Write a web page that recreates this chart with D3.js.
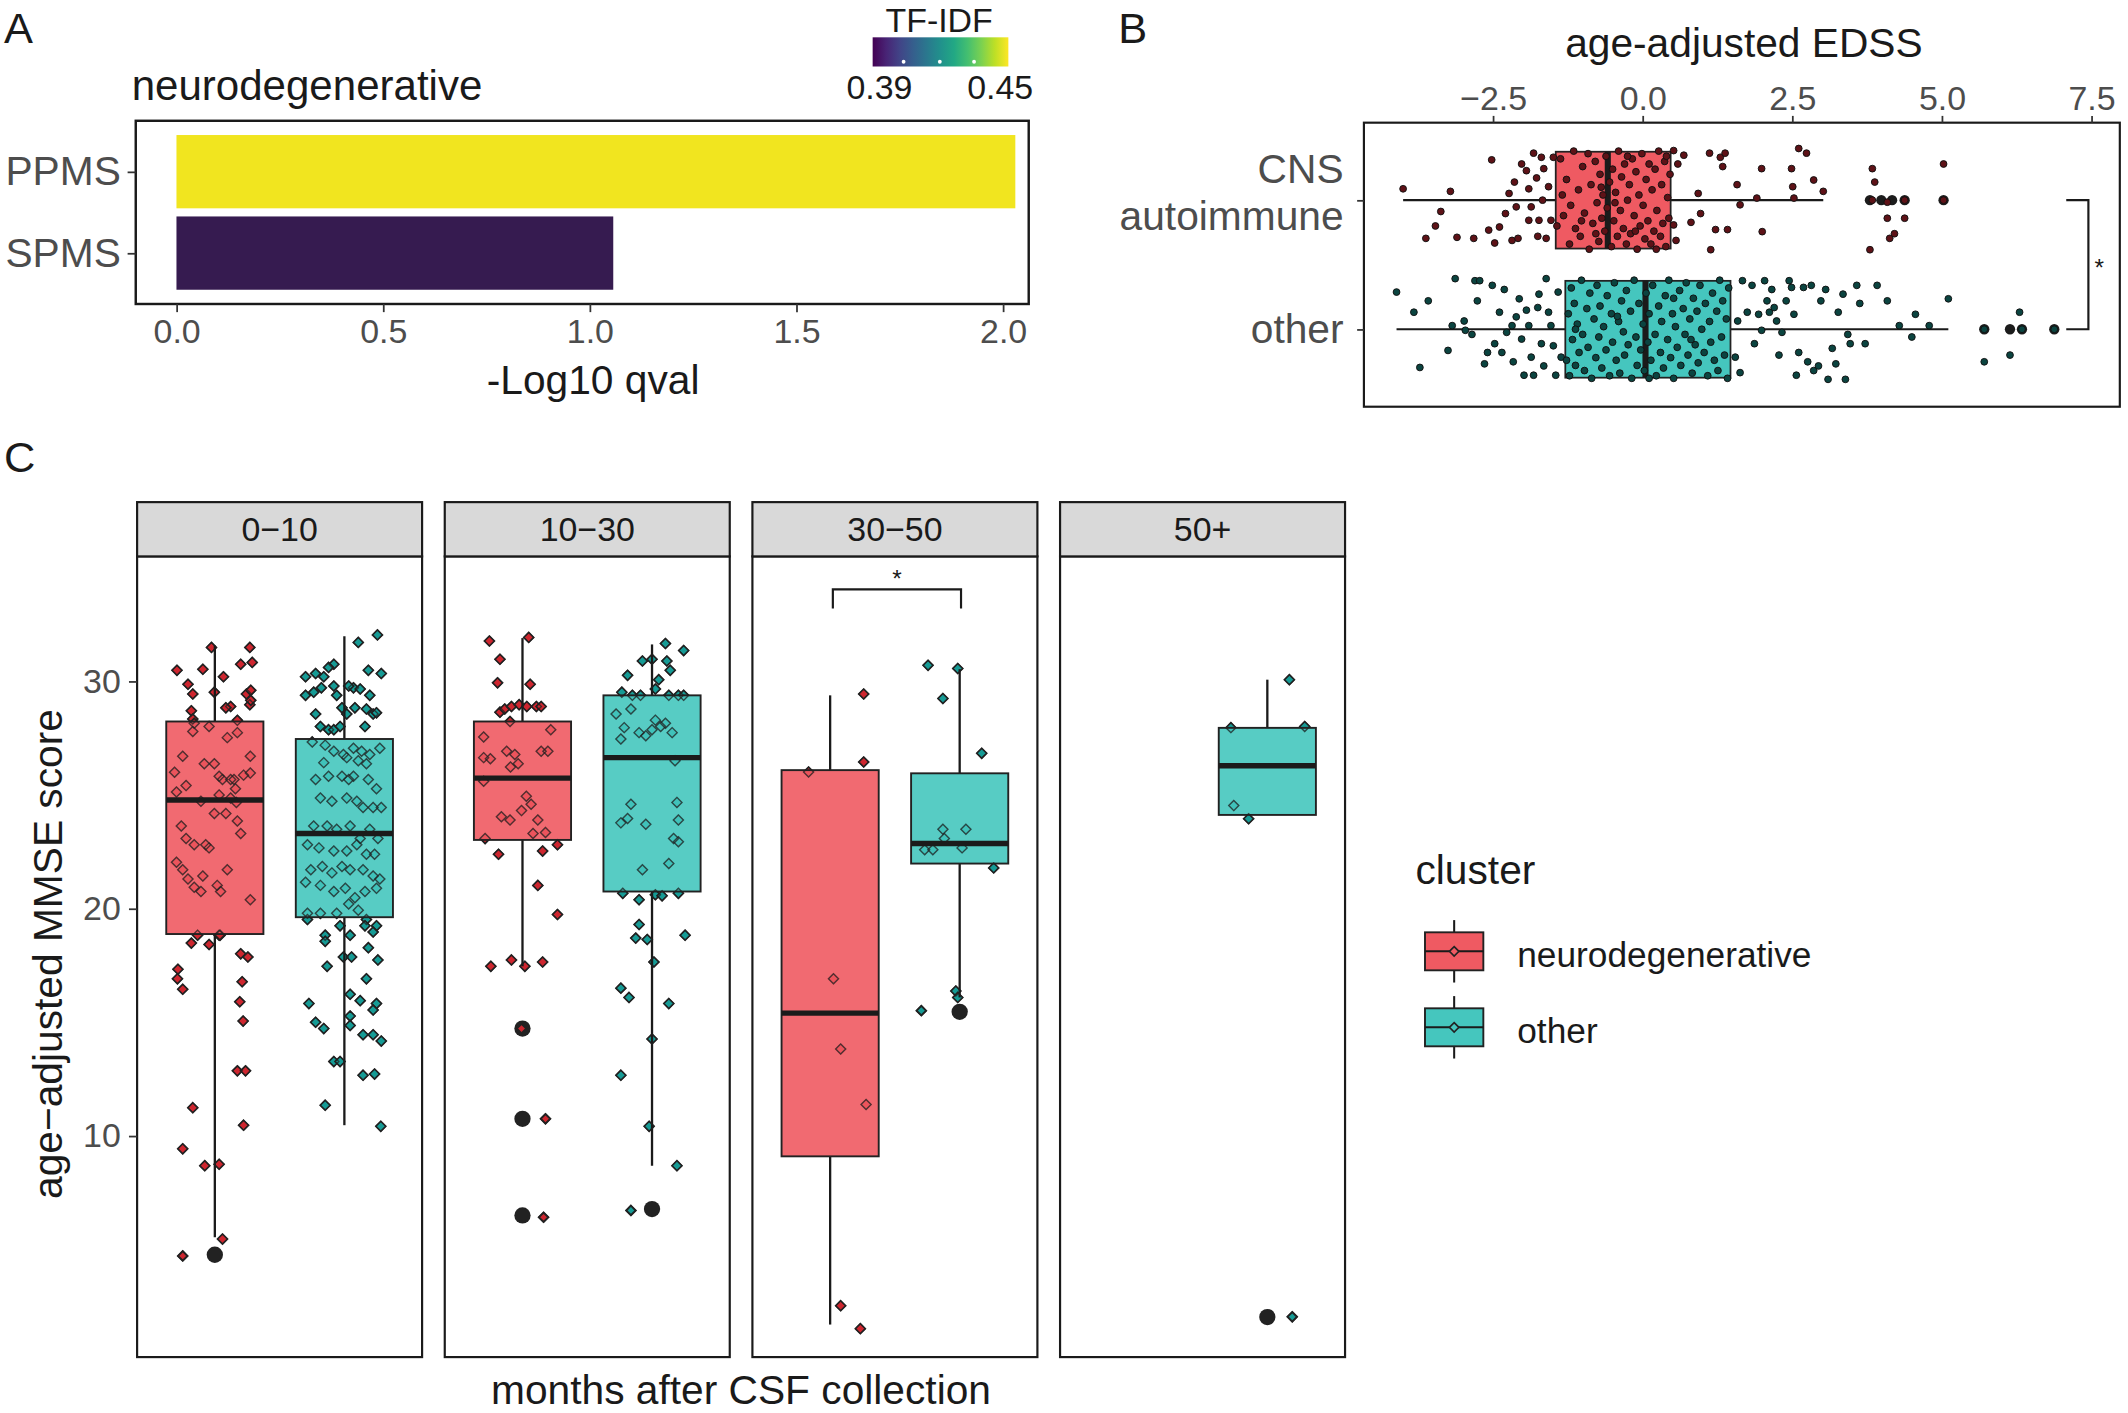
<!DOCTYPE html>
<html>
<head>
<meta charset="utf-8">
<script src="https://cdn.jsdelivr.net/npm/d3@7"></script>
<style>
body { margin: 0; background: #fff; }
text { font-family: "Liberation Sans", Arial, sans-serif; }
</style>
</head>
<body>
<script>
// ---- panel A data ----
var qvalCategories = ["PPMS", "SPMS"];
var qvalValues = [2.03, 1.057];
var tfidfValues = [0.453, 0.388];
var qvalTicks = [0, 0.5, 1, 1.5, 2];
var tfidfLabels = [0.39, 0.45];
var tfidfMarks = [0.402, 0.42, 0.437];

// ---- panel B data (value, jitter -1..1) ----
var edssGroups = ["CNS autoimmune", "other"];
var edssLabelLines = [["CNS", "autoimmune"], ["other"]];
var edssTicks = [-2.5, 0, 2.5, 5, 7.5];
var edssQ1 = [-1.45, -1.29];
var edssMedian = [-0.58, 0.05];
var edssQ3 = [0.47, 1.47];
var edssLow = [-4.00, -4.11];
var edssHigh = [3.02, 5.11];
var edssOutliers = [[3.80, 3.99, 4.17, 4.38, 5.03], [5.71, 6.14, 6.34, 6.88]];
var edssBracket = [7.08, 7.45];

var edssCNSPoints = [
 [-4.00,-0.22],[-3.21,-0.17],[-2.52,-0.78],[-3.37,0.22],[-3.46,0.50],[-3.62,0.74],[-3.10,0.72],[-2.82,0.74],[-2.57,0.58],[-2.47,0.83],
 [-2.39,0.52],[-2.29,0.26],[-2.18,0.78],[-2.11,0.13],[-2.08,0.74],[-2.02,-0.70],[-2.14,-0.35],[-1.94,-0.57],[-1.90,-0.22],[-1.86,0.13],
 [-1.82,-0.91],[-1.77,-0.43],[-1.75,0.70],[-1.73,0.39],[-1.69,-0.83],[-1.67,0.0],[-1.65,-0.61],[-1.61,0.74],[-1.57,-0.26],[-1.53,0.39],
 [-1.49,-0.83],[-1.90,0.39],[-2.23,-0.13],
 [-1.37,-0.8],[-1.32,0.3],[-1.27,-0.4],[-1.22,0.85],[-1.20,0.1],[-1.15,-0.95],[-1.12,0.55],[-1.07,-0.2],[-1.04,0.7],[-1.00,-0.65],
 [-0.97,0.25],[-0.91,-0.9],[-0.89,0.95],[-0.86,-0.3],[-0.83,0.45],[-0.79,-0.75],[-0.76,0.05],[-0.73,0.8],[-0.71,-0.5],[-0.68,0.35],
 [-0.66,-0.1],[-0.63,0.6],[-0.61,-0.85],[-0.59,0.15],[-0.55,-0.35],[-0.52,0.9],[-0.50,-0.6],[-0.48,0.4],[-0.45,-0.15],[-0.42,0.7],
 [-0.40,-0.95],[-0.37,0.2],[-0.35,-0.45],[-0.32,0.55],[-0.30,-0.7],[-0.27,0.85],[-0.25,0.0],[-0.22,-0.3],[-0.20,0.65],[-0.17,-0.8],
 [-0.14,0.3],[-0.11,-0.55],[-0.09,0.95],[-0.06,-0.1],[-0.04,0.5],[-0.01,-0.9],[0.01,0.1],[0.04,0.75],[0.06,-0.4],[0.09,0.4],
 [0.11,-0.7],[0.14,0.85],[0.16,-0.2],[0.19,0.6],[0.21,-0.6],[0.24,0.2],[0.27,-0.95],[0.30,0.7],[0.32,-0.3],[0.34,0.45],
 [0.37,-0.75],[0.39,0.9],[0.42,-0.05],[0.44,0.35],[0.46,-0.5],[-1.43,0.5],[-1.34,-0.1],[-0.69,-0.25],[-0.46,0.05],[-0.12,0.6],
 [0.23,0.95],[0.40,-0.85],[-1.02,0.4],[-0.78,0.65],[-0.25,-0.85],
 [0.52,-0.96],[0.59,-0.70],[0.69,-0.87],[0.52,0.48],[0.56,0.78],[0.81,0.43],[0.93,-0.13],[0.97,0.26],[1.12,-0.91],[1.14,0.96],
 [1.22,0.57],[1.30,-0.83],[1.34,-0.65],[1.38,-0.91],[1.42,0.57],[1.58,-0.30],[1.63,0.09],[1.91,-0.04],[1.99,-0.61],[2.00,0.61],
 [2.49,-0.61],[2.51,-0.26],[2.53,-0.04],[2.61,-1.0],[2.74,-0.91],[2.86,-0.39],[3.02,-0.17],
 [3.84,-0.61],[3.88,-0.35],[4.09,0.04],[4.09,0.35],[4.13,0.74],[4.21,0.65],[4.38,0.35],[3.80,0.96],[5.03,-0.70],[3.84,0],[4.38,0],[5.03,0]
];

var edssOtherPoints = [
 [-4.11,-0.72],[-3.82,-0.33],[-3.72,0.74],[-3.58,-0.55],[-3.25,0.41],[-3.13,-0.98],[-3.18,-0.07],[-2.98,-0.16],[-2.80,-0.94],[-2.76,-0.55],
 [-2.72,-0.94],[-2.64,0.67],[-2.51,-0.85],[-2.47,0.28],[-2.39,-0.33],[-2.35,0.45],[-2.31,-0.77],[-2.27,0.06],[-2.18,-0.07],[-2.16,0.63],
 [-2.11,-0.24],[-2.06,-0.59],[-2.02,0.19],[-1.98,0.89],[-1.94,-0.37],[-1.90,-0.07],[-1.86,0.54],[-1.82,0.89],[-1.75,-0.42],[-1.73,-0.68],
 [-1.69,0.28],[-1.65,0.71],[-1.61,-0.98],[-1.57,-0.33],[-1.53,-0.07],[-1.49,0.32],[-1.45,0.89],[-1.41,-0.72],[-1.36,0.54],[-2.85,0.10],
 [-2.59,0.45],[-2.96,0.02],
 [-1.27,0.6],[-1.24,-0.3],[-1.22,0.9],[-1.19,-0.8],[-1.17,0.2],[-1.14,-0.5],[-1.12,0.7],[-1.09,-0.1],[-1.06,0.45],[-1.02,-0.95],
 [-1.00,0.1],[-0.97,0.8],[-0.93,-0.4],[-0.91,0.35],[-0.88,-0.7],[-0.85,0.95],[-0.81,-0.2],[-0.78,0.55],[-0.76,-0.85],[-0.73,0.15],
 [-0.71,-0.45],[-0.68,0.75],[-0.65,-0.05],[-0.61,0.4],[-0.59,-0.65],[-0.55,0.9],[-0.52,-0.3],[-0.50,0.25],[-0.47,-0.9],[-0.44,0.6],
 [-0.40,-0.15],[-0.38,0.85],[-0.35,-0.55],[-0.32,0.05],[-0.30,0.5],[-0.27,-0.75],[-0.24,0.3],[-0.20,-0.35],[-0.18,0.95],[-0.14,-0.95],
 [-0.11,0.15],[-0.09,0.7],[-0.06,-0.5],[-0.03,0.4],[0.01,-0.1],[0.03,0.8],[0.06,-0.7],[0.09,0.25],[0.11,-0.3],[0.14,0.6],
 [0.17,-0.85],[0.21,0.1],[0.23,0.9],[0.27,-0.45],[0.30,0.45],[0.32,-0.15],[0.35,0.75],[0.38,-0.65],[0.42,0.2],[0.44,-0.95],
 [0.47,0.55],[0.50,-0.3],[0.52,0.95],[0.55,-0.05],[0.58,0.35],[0.62,-0.75],[0.64,0.7],[0.68,-0.4],[0.71,0.1],[0.73,-0.9],
 [0.76,0.5],[0.79,-0.2],[0.83,0.85],[0.85,-0.6],[0.88,0.3],[0.91,-0.35],[0.93,0.65],[0.96,-0.85],[0.99,0.0],[1.03,0.45],
 [1.05,-0.5],[1.09,0.9],[1.12,-0.15],[1.14,0.25],[1.17,-0.7],[1.20,0.6],[1.24,-0.35],[1.26,0.8],[1.29,-0.95],[1.32,0.15],
 [1.34,-0.55],[1.37,0.5],[1.40,-0.2],[1.42,0.95],[1.44,-0.8],[-0.42,-0.25],[0.11,0.95],[0.81,0.2],[-1.12,0.0],[0.52,-0.6],
 [1.55,0.54],[1.59,-0.16],[1.63,0.84],[1.67,-0.94],[1.75,-0.33],[1.83,-0.85],[1.87,0.28],[1.94,-0.29],[1.99,0.02],[2.04,-0.94],
 [2.08,-0.55],[2.12,-0.33],[2.16,-0.77],[2.20,-0.42],[2.24,-0.16],[2.28,0.50],[2.33,0.06],[2.40,-0.55],[2.45,-0.94],[2.49,-0.81],
 [2.53,-0.29],[2.57,0.89],[2.61,0.45],[2.69,-0.81],[2.76,0.63],[2.82,-0.85],[2.86,0.80],[2.94,0.71],[2.98,-0.55],[3.06,-0.77],
 [3.10,0.97],[3.17,0.37],[3.23,0.67],[3.27,-0.33],[3.35,-0.68],[3.39,0.97],[3.43,0.10],[3.47,0.28],[3.58,-0.85],[3.63,-0.50],
 [3.72,0.28],[3.92,-0.85],[4.09,-0.55],[4.29,-0.07],[4.50,0.15],[4.56,-0.29],[4.79,-0.07],[5.11,-0.59],
 [5.71,0.63],[6.14,0.50],[6.30,-0.33],[5.71,0],[6.34,0],[6.88,0]
];

// ---- panel C data ----
var mmseFacets = ["0\u221210", "10\u221230", "30\u221250", "50+"];
var clusters = ["neurodegenerative", "other"];
var mmseTicks = [10, 20, 30];
// [facet][cluster], null when the group is empty
var mmseQ1 = [[18.88, 19.62], [23.02, 20.75], [9.10, 21.98], [null, 24.12]];
var mmseMedian = [[24.78, 23.30], [25.74, 26.64], [15.40, 22.86], [null, 26.28]];
var mmseQ3 = [[28.23, 27.46], [28.23, 29.38], [26.09, 25.95], [null, 27.95]];
var mmseLow = [[5.54, 10.47], [17.46, 8.69], [1.70, 16.09], [null, 24.12]];
var mmseHigh = [[31.57, 31.98], [31.90, 31.62], [29.38, 30.53], [null, 30.07]];
var mmseOutliers = [[[4.77], []], [[14.72, 10.75, 6.50], [6.78]], [[], [15.46]], [[], [2.03]]];
var mmseSignif = [null, null, [34.04, 33.2], null];

var mmseNeuro0_10 = [
 [30.48,-0.79],[29.87,-0.56],[29.44,-0.46],[30.53,-0.25],[31.49,-0.07],[29.52,-0.01],[30.20,0.18],[28.89,0.33],[28.83,0.23],[28.28,0.47],
 [30.75,0.54],[31.49,0.73],[30.83,0.78],[29.44,0.66],[29.60,0.75],[28.97,0.73],[28.70,-0.49],[28.34,-0.46],[28.15,-0.43],[29.16,0.75],
 [27.79,-0.46],[28.01,-0.12],[27.52,0.26],[27.74,0.47],[26.70,0.74],[26.70,-0.67],[26.37,-0.22],[26.37,-0.01],[25.82,0.09],[25.68,0.33],
 [25.27,0.43],[25.87,0.60],[25.96,0.74],[25.00,0.09],[24.86,0.33],[24.67,0.45],[25.13,-0.80],[25.41,-0.60],[24.72,-0.29],[23.85,0.47],
 [23.30,0.54],[24.18,-0.01],[24.18,0.23],[23.63,-0.70],[23.08,-0.60],[22.81,-0.43],[22.81,-0.19],[22.67,-0.12],[22.04,-0.80],[21.71,-0.67],
 [21.30,-0.56],[20.94,-0.43],[20.75,-0.29],[21.02,0.05],[20.75,0.12],[21.71,0.26],[21.43,-0.25],[20.39,0.74],[18.83,-0.36],[18.83,0.09],
 [25.68,0.16],[25.68,0.40],[26.0,-0.84],
 [18.48,-0.49],[18.42,-0.12],[18.83,0.11],[18.01,0.54],[17.87,0.69],[17.33,-0.77],[16.91,-0.78],[16.45,-0.67],[16.78,0.57],[15.90,0.52],
 [15.05,0.59],[12.86,0.47],[12.86,0.64],[10.47,0.60],[11.24,-0.46],[9.43,-0.67],[8.69,-0.21],[8.75,0.09],[5.46,0.16],[4.72,-0.67]
];
var mmseOther0_10 = [
 [31.71,0.29],[32.04,0.69],[30.34,0.77],[30.48,0.50],[29.71,0.19],[30.75,-0.22],[30.61,-0.33],[30.20,-0.43],[30.34,-0.60],[30.20,-0.81],
 [29.38,-0.81],[29.52,-0.64],[29.71,-0.48],[29.79,-0.22],[29.38,-0.16],[28.83,-0.05],[28.56,0.05],[28.83,0.22],[29.66,0.33],[28.78,0.46],
 [28.56,0.60],[28.56,-0.60],[28.01,-0.50],[27.87,-0.33],[27.87,-0.22],[28.01,-0.09],[28.01,0.43],[28.61,0.67],[29.38,0.53],[29.79,0.09],
 [27.33,-0.67],[27.19,-0.40],[26.92,-0.22],[26.78,-0.02],[27.05,0.19],[26.92,0.36],[26.78,0.53],[27.05,0.74],[26.42,-0.43],[26.64,0.05],
 [26.50,0.29],[26.37,0.46],[25.68,-0.60],[25.82,-0.33],[25.82,-0.05],[25.68,0.09],[25.82,0.19],[25.68,0.50],[25.27,0.67],[24.86,-0.50],
 [24.72,-0.26],[24.86,0.05],[24.72,0.26],[24.45,0.39],[24.45,0.60],[24.45,0.77],[23.63,-0.64],[23.63,-0.36],[23.49,-0.16],[23.63,0.12],
 [23.08,0.33],[23.49,0.53],[23.08,0.70],[22.81,-0.77],[22.67,-0.53],[22.53,-0.22],[22.53,0.05],[22.81,0.26],[22.39,0.46],[22.39,0.63],
 [21.71,-0.70],[21.85,-0.46],[21.57,-0.26],[21.85,-0.05],[21.71,0.12],[21.71,0.39],[21.43,0.60],[21.30,0.74],[21.16,-0.81],[21.02,-0.50],
 [20.75,-0.22],[20.89,0.02],[20.48,0.22],[20.75,0.43],[20.89,0.67],[19.79,-0.77],[19.79,-0.50],[19.79,-0.16],[20.20,0.09],[19.93,0.29],
 [19.52,0.46],[19.24,0.67],
 [19.52,-0.77],[18.83,-0.40],[18.56,-0.40],[19.24,-0.09],[18.83,0.12],[19.24,0.43],[18.97,0.60],[18.28,0.50],[17.74,0.70],[17.46,-0.36],
 [17.87,-0.02],[17.87,0.15],[16.91,0.46],[16.23,0.12],[15.95,0.33],[15.82,0.67],[15.54,0.60],[15.82,-0.74],[15.00,-0.60],[14.72,-0.43],
 [15.27,0.12],[14.86,0.12],[14.45,0.39],[14.45,0.60],[14.17,0.77],[13.27,-0.22],[13.27,-0.09],[12.67,0.39],[12.72,0.63],[11.35,-0.40],
 [10.42,0.76]
];
var mmseNeuro10_30 = [
 [31.77,-0.69],[30.97,-0.47],[31.93,0.13],[29.93,-0.52],[29.87,0.16],[28.64,-0.47],[28.78,-0.37],[28.89,-0.23],[28.97,-0.07],[28.89,0.09],
 [28.89,0.29],[28.89,0.39],[28.23,-0.26],[27.55,-0.81],[26.64,-0.81],[26.59,-0.67],[26.92,-0.33],[26.78,-0.16],[26.37,-0.09],[26.92,0.39],
 [26.92,0.53],[27.87,0.59],[26.23,-0.25],[25.60,-0.81],[24.04,-0.44],[23.90,-0.26],[24.31,-0.02],[24.94,0.08],[24.59,0.18],[23.90,0.32],
 [23.35,0.48],[23.30,0.22],[23.08,-0.78],[22.39,-0.50],[22.53,0.42],[22.81,0.73],[21.02,0.32],[19.74,0.73],[17.46,-0.66],[17.74,-0.23],
 [17.46,0.05],[17.65,0.42],[14.72,-0.02],[10.75,0.48],[6.42,0.44]
];
var mmseOther10_30 = [
 [31.66,0.28],[31.35,0.66],[30.89,-0.20],[30.97,0.00],[30.89,0.31],[30.48,0.38],[30.26,-0.51],[30.07,0.14],[29.52,-0.63],[29.38,-0.41],
 [29.38,-0.24],[29.66,0.07],[29.38,0.35],[29.38,0.55],[29.38,0.66],[28.56,-0.75],[28.78,-0.44],[27.96,-0.58],[27.74,-0.27],[27.60,-0.13],
 [28.29,0.07],[28.01,0.18],[27.87,0.00],[28.15,0.28],[27.74,0.42],[27.46,-0.65],[26.50,0.48],[24.59,-0.44],[23.77,-0.65],[23.96,-0.51],
 [23.71,-0.13],[24.67,0.52],[23.90,0.55],[23.08,0.45],[22.94,0.55],[21.98,0.35],[21.71,-0.20],[20.67,-0.61],[20.39,-0.27],[20.61,0.07],
 [20.56,0.21],[20.67,0.55],[19.30,-0.27],[18.70,-0.34],[18.64,-0.10],[18.83,0.69],[17.65,0.04],[16.50,-0.65],[16.09,-0.48],[15.82,0.35],
 [14.26,0.00],[12.67,-0.65],[10.42,-0.06],[8.69,0.52],[6.72,-0.44]
];
var mmseNeuro30_50 = [
 [26.01,-0.45],[29.44,0.70],[26.45,0.70],[16.91,0.07],[13.82,0.22],[11.38,0.75],[2.53,0.22],[1.52,0.63]
];
var mmseOther30_50 = [
 [30.70,-0.66],[30.56,-0.04],[29.24,-0.35],[26.83,0.46],[23.49,-0.35],[23.49,0.13],[22.59,-0.73],[22.59,-0.56],[22.67,0.05],[21.79,0.71],
 [23.08,-0.32],[16.37,-0.08],[16.09,-0.04],[15.51,-0.80]
];
var mmseNeuro50 = [];
var mmseOther50 = [
 [30.07,0.46],[27.96,-0.76],[28.01,0.78],[24.53,-0.70],[23.95,-0.39],[2.04,0.52]
];
var mmsePoints = [
 [mmseNeuro0_10, mmseOther0_10],
 [mmseNeuro10_30, mmseOther10_30],
 [mmseNeuro30_50, mmseOther30_50],
 [mmseNeuro50, mmseOther50]
];

// ---- styling ----
var INK = "#1a1a1a", GREY = "#4d4d4d";
var FILL = {"neurodegenerative": "#EF5A62", "other": "#45C6BE"};
var DOT = {"neurodegenerative": "#CE262F", "other": "#169B95"};
var EDSS_DOT = ["#5e1217", "#0b4440"];

var svg = d3.select("body").append("svg")
    .attr("width", 2128).attr("height", 1413)
    .attr("viewBox", "0 0 1568 1041.2");

function txt(g, x, y, s, size, anchor, fill) {
    return g.append("text")
	.attr("x", x).attr("y", y)
	.attr("dominant-baseline", "central")
	.attr("text-anchor", anchor || "start")
	.attr("font-size", size)
	.attr("fill", fill || INK)
	.text(s);
}

function styleAxis(g, size) {
    g.select(".domain").remove();
    g.selectAll(".tick line").attr("stroke", "#333").attr("stroke-width", 1.3);
    g.selectAll(".tick text").attr("font-size", size).attr("fill", GREY)
	.attr("font-family", "'Liberation Sans', Arial, sans-serif");
}

function diamond(s) {
    return "M0," + (-s) + "L" + s + ",0L0," + s + "L" + (-s) + ",0Z";
}

// panel letters
txt(svg, 3, 21, "A", 32);
txt(svg, 824, 21, "B", 32);
txt(svg, 3, 337, "C", 32);

/**
 * Panel A: q-value bars coloured by TF-IDF.
 */
var gA = svg.append("g");
var A = {left: 100, right: 758, top: 89, bottom: 224};
var xA = d3.scaleLinear().domain([0, 2]).range([130, 739]);
var yA = d3.scalePoint().domain(qvalCategories).range([A.top, A.bottom]).padding(0.625);
var colA = d3.scaleLinear()
    .domain([d3.min(tfidfValues), d3.max(tfidfValues)])
    .range(["#361b50", "#f1e51f"]);
var barH = yA.step() * 0.9;

gA.selectAll("rect.bar").data(qvalCategories).enter().append("rect")
    .attr("x", xA(0))
    .attr("y", function (d) { return yA(d) - barH / 2; })
    .attr("width", function (d, i) { return xA(qvalValues[i]) - xA(0); })
    .attr("height", barH)
    .attr("fill", function (d, i) { return colA(tfidfValues[i]); });
gA.append("rect").attr("x", A.left).attr("y", A.top)
    .attr("width", A.right - A.left).attr("height", A.bottom - A.top)
    .attr("fill", "none").attr("stroke", INK).attr("stroke-width", 1.8);
gA.append("g").attr("transform", "translate(0," + A.bottom + ")")
    .call(d3.axisBottom(xA).tickValues(qvalTicks).tickFormat(d3.format(".1f")).tickSize(6).tickPadding(5))
    .call(function (g) { styleAxis(g, 25); });
gA.append("g").attr("transform", "translate(" + A.left + ",0)")
    .call(d3.axisLeft(yA).tickSize(6).tickPadding(5))
    .call(function (g) { styleAxis(g, 30); });
txt(gA, 97, 63, "neurodegenerative", 31);
txt(gA, 437, 280, "-Log10 qval", 30, "middle");

// colour bar
var cb = {x0: 643, x1: 743, y0: 27.5, y1: 49};
var xCb = d3.scaleLinear().domain([0.39, 0.45]).range([648, 737]);
var grad = svg.append("defs").append("linearGradient").attr("id", "vir");
d3.range(0, 1.01, 0.1).forEach(function (t) {
    grad.append("stop").attr("offset", (t * 100) + "%").attr("stop-color", d3.interpolateViridis(t));
});
gA.append("rect").attr("x", cb.x0).attr("y", cb.y0)
    .attr("width", cb.x1 - cb.x0).attr("height", cb.y1 - cb.y0)
    .attr("fill", "url(#vir)");
gA.selectAll("circle.cbm").data(tfidfMarks).enter().append("circle")
    .attr("cx", function (d) { return xCb(d); }).attr("cy", 45.5).attr("r", 1.4)
    .attr("fill", "#fff");
gA.selectAll("text.cbl").data(tfidfLabels).enter().append("text")
    .attr("x", function (d) { return xCb(d); }).attr("y", 64)
    .attr("dominant-baseline", "central").attr("text-anchor", "middle")
    .attr("font-size", 25).attr("fill", INK)
    .text(function (d) { return d.toFixed(2); });
txt(gA, 692, 15, "TF-IDF", 25, "middle");

/**
 * Panel B: horizontal boxplots of age-adjusted EDSS.
 */
var gB = svg.append("g");
var B = {left: 1005, right: 1562, top: 90.4, bottom: 299.7};
var xB = d3.scaleLinear().domain([-4.655, 7.975]).range([B.left, B.right]);
var yB = d3.scalePoint().domain(edssGroups).range([B.top, B.bottom]).padding(0.6);
var bh = yB.step() * 0.75;
var edssPts = [edssCNSPoints, edssOtherPoints];

edssGroups.forEach(function (grp, i) {
    var cy = yB(grp), col = FILL[clusters[i]];
    gB.append("line").attr("x1", xB(edssLow[i])).attr("x2", xB(edssQ1[i]))
	.attr("y1", cy).attr("y2", cy).attr("stroke", INK).attr("stroke-width", 1.6);
    gB.append("line").attr("x1", xB(edssQ3[i])).attr("x2", xB(edssHigh[i]))
	.attr("y1", cy).attr("y2", cy).attr("stroke", INK).attr("stroke-width", 1.6);
    gB.append("rect").attr("x", xB(edssQ1[i])).attr("y", cy - bh / 2)
	.attr("width", xB(edssQ3[i]) - xB(edssQ1[i])).attr("height", bh)
	.attr("fill", col).attr("stroke", "#222").attr("stroke-width", 1.3);
    gB.append("line").attr("x1", xB(edssMedian[i])).attr("x2", xB(edssMedian[i]))
	.attr("y1", cy - bh / 2).attr("y2", cy + bh / 2)
	.attr("stroke", "#1b1b1b").attr("stroke-width", 4.5);
    gB.selectAll("circle.out" + i).data(edssOutliers[i]).enter().append("circle")
	.attr("cx", function (d) { return xB(d); }).attr("cy", cy).attr("r", 3.8)
	.attr("fill", "#1c1c1c");
    gB.selectAll("circle.pt" + i).data(edssPts[i]).enter().append("circle")
	.attr("cx", function (d) { return xB(d[0]); })
	.attr("cy", function (d) { return cy + d[1] * 0.4 * yB.step(); })
	.attr("r", 2.5)
	.attr("fill", EDSS_DOT[i]).attr("stroke", "#111").attr("stroke-width", 0.7);
});

gB.append("rect").attr("x", B.left).attr("y", B.top)
    .attr("width", B.right - B.left).attr("height", B.bottom - B.top)
    .attr("fill", "none").attr("stroke", INK).attr("stroke-width", 1.6);
gB.append("g").attr("transform", "translate(0," + B.top + ")")
    .call(d3.axisTop(xB).tickValues(edssTicks).tickFormat(d3.format(".1f")).tickSize(5).tickPadding(4.5))
    .call(function (g) { styleAxis(g, 25); });
gB.append("g").attr("transform", "translate(" + B.left + ",0)")
    .call(d3.axisLeft(yB).tickSize(5).tickFormat(function () { return ""; }))
    .call(function (g) { styleAxis(g, 25); });
edssGroups.forEach(function (grp, i) {
    var lines = edssLabelLines[i];
    var mid = yB(grp) - (lines.length > 1 ? 5.5 : 0);
    lines.forEach(function (s, k) {
	txt(gB, 990, mid + (k - (lines.length - 1) / 2) * 35, s, 30, "end", GREY);
    });
});
txt(gB, 1285, 32, "age-adjusted EDSS", 30, "middle");

// significance bracket
var yb1 = yB(edssGroups[0]), yb2 = yB(edssGroups[1]);
gB.append("path")
    .attr("d", "M" + xB(edssBracket[0]) + "," + yb1 + "H" + xB(edssBracket[1]) +
	  "V" + yb2 + "H" + xB(edssBracket[0]))
    .attr("fill", "none").attr("stroke", INK).attr("stroke-width", 1.6);
txt(gB, xB(edssBracket[1]) + 8, (yb1 + yb2) / 2 + 2, "*", 18, "middle");

/**
 * Panel C: faceted boxplots of age-adjusted MMSE.
 */
var gC = svg.append("g");
var C = {top: 410, bottom: 1000, stripTop: 370, width: 210, gap: 226.7, left0: 101};
var yC = d3.scaleLinear().domain([10, 30]).range([837, 502]);
var xC = d3.scalePoint().domain(clusters).range([0, C.width]).padding(0.6);
var bw = xC.step() * 0.75;

function jitterPos(cx) {
    return function (d) {
	return "translate(" + (cx + d[1] * 0.37 * xC.step()) + "," + yC(d[0]) + ")";
    };
}

mmseFacets.forEach(function (facet, f) {
    var fx = C.left0 + f * C.gap;
    var g = gC.append("g").attr("transform", "translate(" + fx + ",0)");

    clusters.forEach(function (cl, c) {
	var pts = mmsePoints[f][c];
	var cx = xC(cl);
	// jittered points underneath the translucent boxes
	g.selectAll("path.pt" + c).data(pts).enter().append("path")
	    .attr("d", diamond(3.7))
	    .attr("transform", jitterPos(cx))
	    .attr("fill", DOT[cl]).attr("stroke", "#222").attr("stroke-width", 1.1);
	if (mmseQ1[f][c] === null) return;
	g.append("line").attr("x1", cx).attr("x2", cx)
	    .attr("y1", yC(mmseHigh[f][c])).attr("y2", yC(mmseQ3[f][c]))
	    .attr("stroke", INK).attr("stroke-width", 1.7);
	g.append("line").attr("x1", cx).attr("x2", cx)
	    .attr("y1", yC(mmseQ1[f][c])).attr("y2", yC(mmseLow[f][c]))
	    .attr("stroke", INK).attr("stroke-width", 1.7);
	g.append("rect").attr("x", cx - bw / 2).attr("y", yC(mmseQ3[f][c]))
	    .attr("width", bw).attr("height", yC(mmseQ1[f][c]) - yC(mmseQ3[f][c]))
	    .attr("fill", FILL[cl]).attr("fill-opacity", 0.9)
	    .attr("stroke", "#222").attr("stroke-width", 1.4);
	// outlines of the points show through the box
	g.selectAll("path.ol" + c).data(pts).enter().append("path")
	    .attr("d", diamond(3.7))
	    .attr("transform", jitterPos(cx))
	    .attr("fill", "none").attr("stroke", "#222").attr("stroke-opacity", 0.75)
	    .attr("stroke-width", 1);
	g.append("line").attr("x1", cx - bw / 2).attr("x2", cx + bw / 2)
	    .attr("y1", yC(mmseMedian[f][c])).attr("y2", yC(mmseMedian[f][c]))
	    .attr("stroke", "#1b1b1b").attr("stroke-width", 4);
	g.selectAll("circle.out" + c).data(mmseOutliers[f][c]).enter().append("circle")
	    .attr("cx", cx).attr("cy", function (d) { return yC(d); }).attr("r", 6)
	    .attr("fill", "#222");
	// points that sit on top of the outlier dots
	g.selectAll("path.top" + c).data(pts.filter(function (d) {
	    return mmseOutliers[f][c].some(function (o) { return Math.abs(o - d[0]) < 0.3; });
	})).enter().append("path")
	    .attr("d", diamond(3.2))
	    .attr("transform", jitterPos(cx))
	    .attr("fill", DOT[cl]).attr("stroke", "#222").attr("stroke-width", 1);
    });

    if (mmseSignif[f]) {
	var s = mmseSignif[f];
	var xa = xC(clusters[0]) + 2, xb = xC(clusters[1]) + 1;
	g.append("path")
	    .attr("d", "M" + xa + "," + yC(s[1]) + "V" + yC(s[0]) + "H" + xb + "V" + yC(s[1]))
	    .attr("fill", "none").attr("stroke", INK).attr("stroke-width", 1.6);
	txt(g, (xa + xb) / 2, yC(s[0]) - 8, "*", 18, "middle");
    }

    g.append("rect").attr("x", 0).attr("y", C.top)
	.attr("width", C.width).attr("height", C.bottom - C.top)
	.attr("fill", "none").attr("stroke", INK).attr("stroke-width", 1.6);
    g.append("rect").attr("x", 0).attr("y", C.stripTop)
	.attr("width", C.width).attr("height", C.top - C.stripTop)
	.attr("fill", "#d9d9d9").attr("stroke", INK).attr("stroke-width", 1.6);
    txt(g, C.width / 2, (C.stripTop + C.top) / 2, facet, 25, "middle", INK);
});

gC.append("g").attr("transform", "translate(" + C.left0 + ",0)")
    .call(d3.axisLeft(yC).tickValues(mmseTicks).tickSize(6).tickPadding(6))
    .call(function (g) { styleAxis(g, 25); });
txt(gC, 35, 703, "age\u2212adjusted MMSE score", 30, "middle")
    .attr("transform", "rotate(-90,35,703)");
txt(gC, 546, 1024, "months after CSF collection", 30, "middle");

// legend
var gL = svg.append("g");
txt(gL, 1043, 641, "cluster", 30);
var legY = d3.scalePoint().domain(clusters).range([701, 757]);
clusters.forEach(function (cl) {
    var cy = legY(cl), kx = 1050, kw = 43, kh = 28;
    gL.append("line").attr("x1", kx + kw / 2).attr("x2", kx + kw / 2)
	.attr("y1", cy - kh / 2 - 9).attr("y2", cy + kh / 2 + 9)
	.attr("stroke", INK).attr("stroke-width", 1.5);
    gL.append("rect").attr("x", kx).attr("y", cy - kh / 2).attr("width", kw).attr("height", kh)
	.attr("fill", FILL[cl]).attr("stroke", "#222").attr("stroke-width", 1.4);
    gL.append("line").attr("x1", kx).attr("x2", kx + kw).attr("y1", cy).attr("y2", cy)
	.attr("stroke", INK).attr("stroke-width", 1.5);
    gL.append("path").attr("d", diamond(3.5))
	.attr("transform", "translate(" + (kx + kw / 2) + "," + cy + ")")
	.attr("fill", FILL[cl]).attr("stroke", "#222").attr("stroke-width", 1.2);
    txt(gL, 1118, cy + 2, cl, 26);
});
</script>
</body>
</html>
